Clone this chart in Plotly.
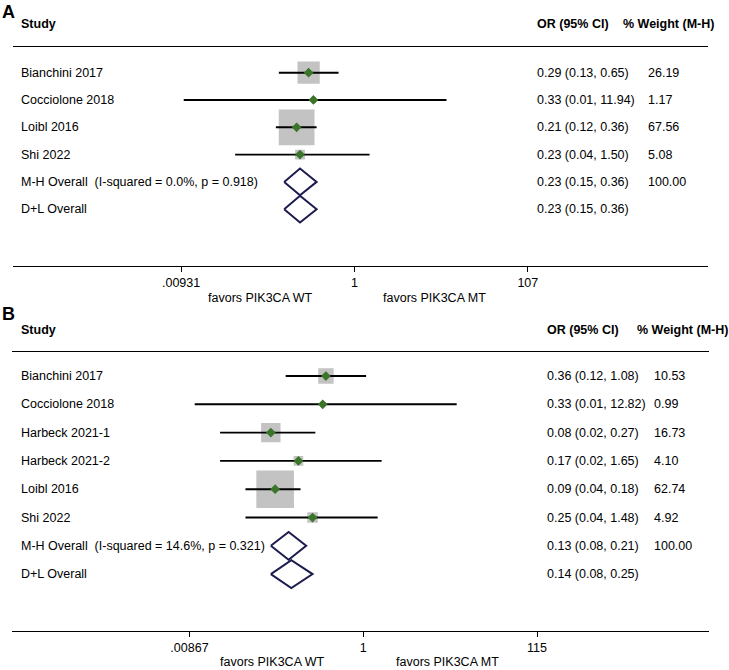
import numpy as np
import plotly.graph_objects as go

W, H = 729, 670

# ---------------- data ----------------
studies_a = ["Bianchini 2017", "Cocciolone 2018", "Loibl 2016", "Shi 2022"]
or_a = [0.29, 0.33, 0.21, 0.23]
lo_a = [0.13, 0.01, 0.12, 0.04]
hi_a = [0.65, 11.94, 0.36, 1.50]
wt_a = [26.19, 1.17, 67.56, 5.08]
overall_labels_a = ["M-H Overall\u00a0\u00a0(I-squared = 0.0%, p = 0.918)", "D+L Overall"]
overall_or_a = [0.23, 0.23]
overall_lo_a = [0.15, 0.15]
overall_hi_a = [0.36, 0.36]
overall_wt_a = ["100.00", ""]
ticks_a = [0.00931, 1, 107]
ticklabels_a = [".00931", "1", "107"]

studies_b = ["Bianchini 2017", "Cocciolone 2018", "Harbeck 2021-1", "Harbeck 2021-2",
             "Loibl 2016", "Shi 2022"]
or_b = [0.36, 0.33, 0.08, 0.17, 0.09, 0.25]
lo_b = [0.12, 0.01, 0.02, 0.02, 0.04, 0.04]
hi_b = [1.08, 12.82, 0.27, 1.65, 0.18, 1.48]
wt_b = [10.53, 0.99, 16.73, 4.10, 62.74, 4.92]
overall_labels_b = ["M-H Overall\u00a0\u00a0(I-squared = 14.6%, p = 0.321)", "D+L Overall"]
overall_or_b = [0.13, 0.14]
overall_lo_b = [0.08, 0.08]
overall_hi_b = [0.21, 0.25]
overall_wt_b = ["100.00", ""]
ticks_b = [0.00867, 1, 115]
ticklabels_b = [".00867", "1", "115"]

FONT = "Liberation Sans, Arial, Helvetica, sans-serif"
GRAY = "#a9a9a9"
GREEN = "#3a752a"
NAVY = "#1c1c4e"
DASH = "#8b1c2a"

def px(x):
    return x / W

def py(y):
    return 1 - y / H

fig = go.Figure()
annotations = []
shapes = []

def panel(n, studies, ors, los, his, wts, olabels, oor, olo, ohi, owt,
          box_k, diam_h, or_x, wt_x, name_x):
    xa = "x" if n == 1 else "x2"
    ya = "y" if n == 1 else "y2"
    rows = list(range(1, len(studies) + 1))
    orows = [len(studies) + 1, len(studies) + 2]
    # weight boxes
    fig.add_trace(go.Scatter(
        x=ors, y=rows, mode="markers", xaxis=xa, yaxis=ya,
        marker=dict(symbol="square", color=GRAY,
                    size=[box_k * np.sqrt(w) for w in wts], line=dict(width=0)),
        hoverinfo="skip", showlegend=False))
    # CI lines
    cx, cy = [], []
    for r, l, h in zip(rows, los, his):
        cx += [l, h, None]
        cy += [r, r, None]
    fig.add_trace(go.Scatter(
        x=cx, y=cy, mode="lines", xaxis=xa, yaxis=ya,
        line=dict(color="black", width=1.9), hoverinfo="skip", showlegend=False))
    # point estimates
    fig.add_trace(go.Scatter(
        x=ors, y=rows, mode="markers", xaxis=xa, yaxis=ya,
        marker=dict(symbol="diamond", color=GREEN, size=7.5, line=dict(width=0)),
        hoverinfo="skip", showlegend=False))
    # overall diamonds
    for r, e, l, h in zip(orows, oor, olo, ohi):
        fig.add_trace(go.Scatter(
            x=[l, e, h, e, l], y=[r, r - diam_h, r, r + diam_h, r],
            mode="lines", xaxis=xa, yaxis=ya,
            line=dict(color=NAVY, width=2), hoverinfo="skip", showlegend=False))
    # reference lines (shapes on log axis use log10)
    shapes.append(dict(type="line", xref=xa, yref=ya + " domain",
                       x0=0, x1=0, y0=0, y1=1, layer="below",
                       line=dict(color="black", width=1.3)))
    shapes.append(dict(type="line", xref=xa, yref=ya + " domain",
                       x0=np.log10(oor[0]), x1=np.log10(oor[0]), y0=0, y1=1, layer="below",
                       line=dict(color=DASH, width=1.3, dash="4px,3px")))
    # text columns
    for r, s, e, l, h, w in zip(rows, studies, ors, los, his, wts):
        annotations.append(dict(xref="paper", yref=ya, x=px(name_x), y=r, text=s,
                                xanchor="left", yanchor="middle", showarrow=False))
        annotations.append(dict(xref="paper", yref=ya, x=px(or_x), y=r,
                                text=f"{e:.2f} ({l:.2f}, {h:.2f})",
                                xanchor="left", yanchor="middle", showarrow=False))
        annotations.append(dict(xref="paper", yref=ya, x=px(wt_x), y=r, text=f"{w:.2f}",
                                xanchor="left", yanchor="middle", showarrow=False))
    for r, s, e, l, h, w in zip(orows, olabels, oor, olo, ohi, owt):
        annotations.append(dict(xref="paper", yref=ya, x=px(name_x), y=r, text=s,
                                xanchor="left", yanchor="middle", showarrow=False))
        annotations.append(dict(xref="paper", yref=ya, x=px(or_x), y=r,
                                text=f"{e:.2f} ({l:.2f}, {h:.2f})",
                                xanchor="left", yanchor="middle", showarrow=False))
        if w:
            annotations.append(dict(xref="paper", yref=ya, x=px(wt_x), y=r, text=w,
                                    xanchor="left", yanchor="middle", showarrow=False))

panel(1, studies_a, or_a, lo_a, hi_a, wt_a, overall_labels_a, overall_or_a,
      overall_lo_a, overall_hi_a, overall_wt_a, 4.35, 0.49, 535, 646, 19)
panel(2, studies_b, or_b, lo_b, hi_b, wt_b, overall_labels_b, overall_or_b,
      overall_lo_b, overall_hi_b, overall_wt_b, 4.75, 0.49, 545, 652, 18.5)

# headers and panel letters
def hdr(x, y, text, size=12.5, bold=True, anchor="left", yanchor="middle"):
    annotations.append(dict(xref="paper", yref="paper", x=px(x), y=py(y),
                            text=f"<b>{text}</b>" if bold else text,
                            font=dict(size=size), xanchor=anchor, yanchor=yanchor,
                            showarrow=False))

hdr(0, 0, "A", size=18, yanchor="top")
hdr(19, 23.5, "Study")
hdr(535, 23.5, "OR (95% CI)")
hdr(621, 23.5, "% Weight (M-H)")
hdr(260, 297.5, "favors PIK3CA WT", bold=False, anchor="center")
hdr(434, 297.5, "favors PIK3CA MT", bold=False, anchor="center")

hdr(0, 302, "B", size=18, yanchor="top")
hdr(18.5, 330, "Study")
hdr(545, 330, "OR (95% CI)")
hdr(635, 330, "% Weight (M-H)")
hdr(272, 662, "favors PIK3CA WT", bold=False, anchor="center")
hdr(447, 662, "favors PIK3CA MT", bold=False, anchor="center")

axis_common = dict(type="log", showline=True, mirror=True, linecolor="black",
                   linewidth=1.3, ticks="outside", ticklen=5, tickwidth=1.3,
                   tickcolor="black", showgrid=False, zeroline=False,
                   tickfont=dict(size=12.5, color="black"), fixedrange=True)

fig.update_layout(
    width=W, height=H, autosize=False,
    margin=dict(l=0, r=0, t=0, b=0),
    paper_bgcolor="white", plot_bgcolor="white",
    font=dict(family=FONT, size=12.5, color="black"),
    showlegend=False,
    xaxis=dict(domain=[px(13), px(708)], anchor="y", range=[-3.999, 4.139],
               tickvals=ticks_a, ticktext=ticklabels_a, **axis_common),
    yaxis=dict(domain=[py(265.7), py(46.7)], anchor="x", range=[8.07, 0.048],
               visible=False, fixedrange=True),
    xaxis2=dict(domain=[px(11.7), px(709)], anchor="y2", range=[-4.171, 4.101],
                tickvals=ticks_b, ticktext=ticklabels_b, **axis_common),
    yaxis2=dict(domain=[py(631), py(351.7)], anchor="x2", range=[10.01, 0.141],
                visible=False, fixedrange=True),
    annotations=annotations,
    shapes=shapes,
)

fig.write_html(
    "out.html",
    config={"displayModeBar": False},
    post_script="document.body.style.margin='0';document.body.style.overflow='hidden';",
)
